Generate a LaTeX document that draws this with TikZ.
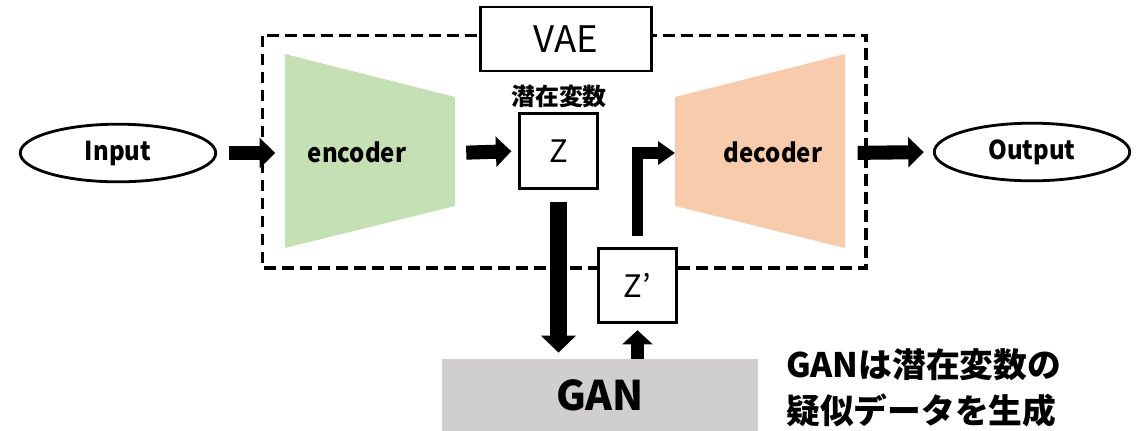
\documentclass[tikz,border=0pt]{standalone}
\usepackage{fontspec}
\setmainfont{Noto Sans CJK JP}
\newfontfamily\narrowsans[FakeStretch=0.92]{Noto Sans CJK JP}
\usepackage{tikz}
\usetikzlibrary{arrows.meta,shapes.geometric}
\definecolor{encgreen}{RGB}{197,224,180}
\definecolor{decorange}{RGB}{248,203,173}
\definecolor{gangrey}{RGB}{208,206,206}

\begin{document}
\begin{tikzpicture}[x=0.025cm, y=-0.025cm,
    box/.style={draw, line width=2pt, fill=white, inner sep=0pt},
    lbl/.style={font=\narrowsans\bfseries\fontsize{18.5}{18.5}\selectfont},
    oval/.style={draw, ellipse, line width=2pt, minimum width=139pt, minimum height=41pt, lbl},
    fat/.style={line width=10pt, -{Triangle[length=11pt,width=21pt]}}]
    \useasboundingbox (0,0) rectangle (1142,430);
    \draw[line width=2.3pt, dash pattern=on 8.5pt off 4.3pt] (262.5,35.5) rectangle (866,268);
    \fill[encgreen] (285,54) -- (455,97) -- (455,206) -- (285,248) -- cycle;
    \fill[decorange] (675,97) -- (845,54) -- (845,248) -- (675,206) -- cycle;
    \coordinate (encin) at (285,153);
    \coordinate (encout) at (455,153);
    \coordinate (decin) at (675,153);
    \coordinate (decout) at (845,153);
    \node[lbl] (enc) at (357,152) {encoder};
    \node[lbl] (dec) at (773,152) {decoder};
    \node[oval] (input) at (118,153) {Input};
    \node[oval] (output) at (1032,152) {Output};
    \node[box, minimum width=122pt, minimum height=45.5pt, font=\fontsize{26}{26}\selectfont]
      (vae) at (566,39) {VAE};
    \node[font=\bfseries\fontsize{17}{17}\selectfont] (latent) at (559,96) {潜在変数};
    \node[box, minimum width=55pt, minimum height=53pt, font=\fontsize{22}{22}\selectfont]
      (z) at (558.5,151) {Z};
    \node[box, minimum width=56pt, minimum height=53pt, font=\fontsize{22}{22}\selectfont]
      (zp) at (637.5,285.5) {Z’};
    \node[fill=gangrey, minimum width=225pt, minimum height=52pt, font=\bfseries\fontsize{29}{29}\selectfont]
      (gan) at (600,395.5) {GAN};
    \node[anchor=west, align=left, inner sep=0pt, font=\bfseries\fontsize{24}{33}\selectfont]
      (note) at (786,388) {GANは潜在変数の\\疑似データを生成};
    \draw[fat, shorten <=8.5pt, shorten >=7pt] (input.east) -- (encin);
    \draw[fat, shorten <=8pt, shorten >=5pt] (encout) -- (z.west);
    \draw[fat, shorten <=9pt, shorten >=6.5pt] (decout) -- (output.west);
    \draw[fat, line width=11.5pt, -{Triangle[length=12pt,width=24pt]}, shorten <=8.5pt, shorten >=4.3pt]
      (z.south) -- (z.south |- gan.north);
    \draw[fat, line width=9pt, -{Triangle[length=10pt,width=21pt]}, shorten >=4.3pt]
      (zp.south |- gan.north) -- (zp.south);
    \draw[fat, line width=8.5pt, -{Triangle[length=12pt,width=16pt]}, shorten <=7.8pt]
      (zp.north) |- (decin);
\end{tikzpicture}
\end{document}
